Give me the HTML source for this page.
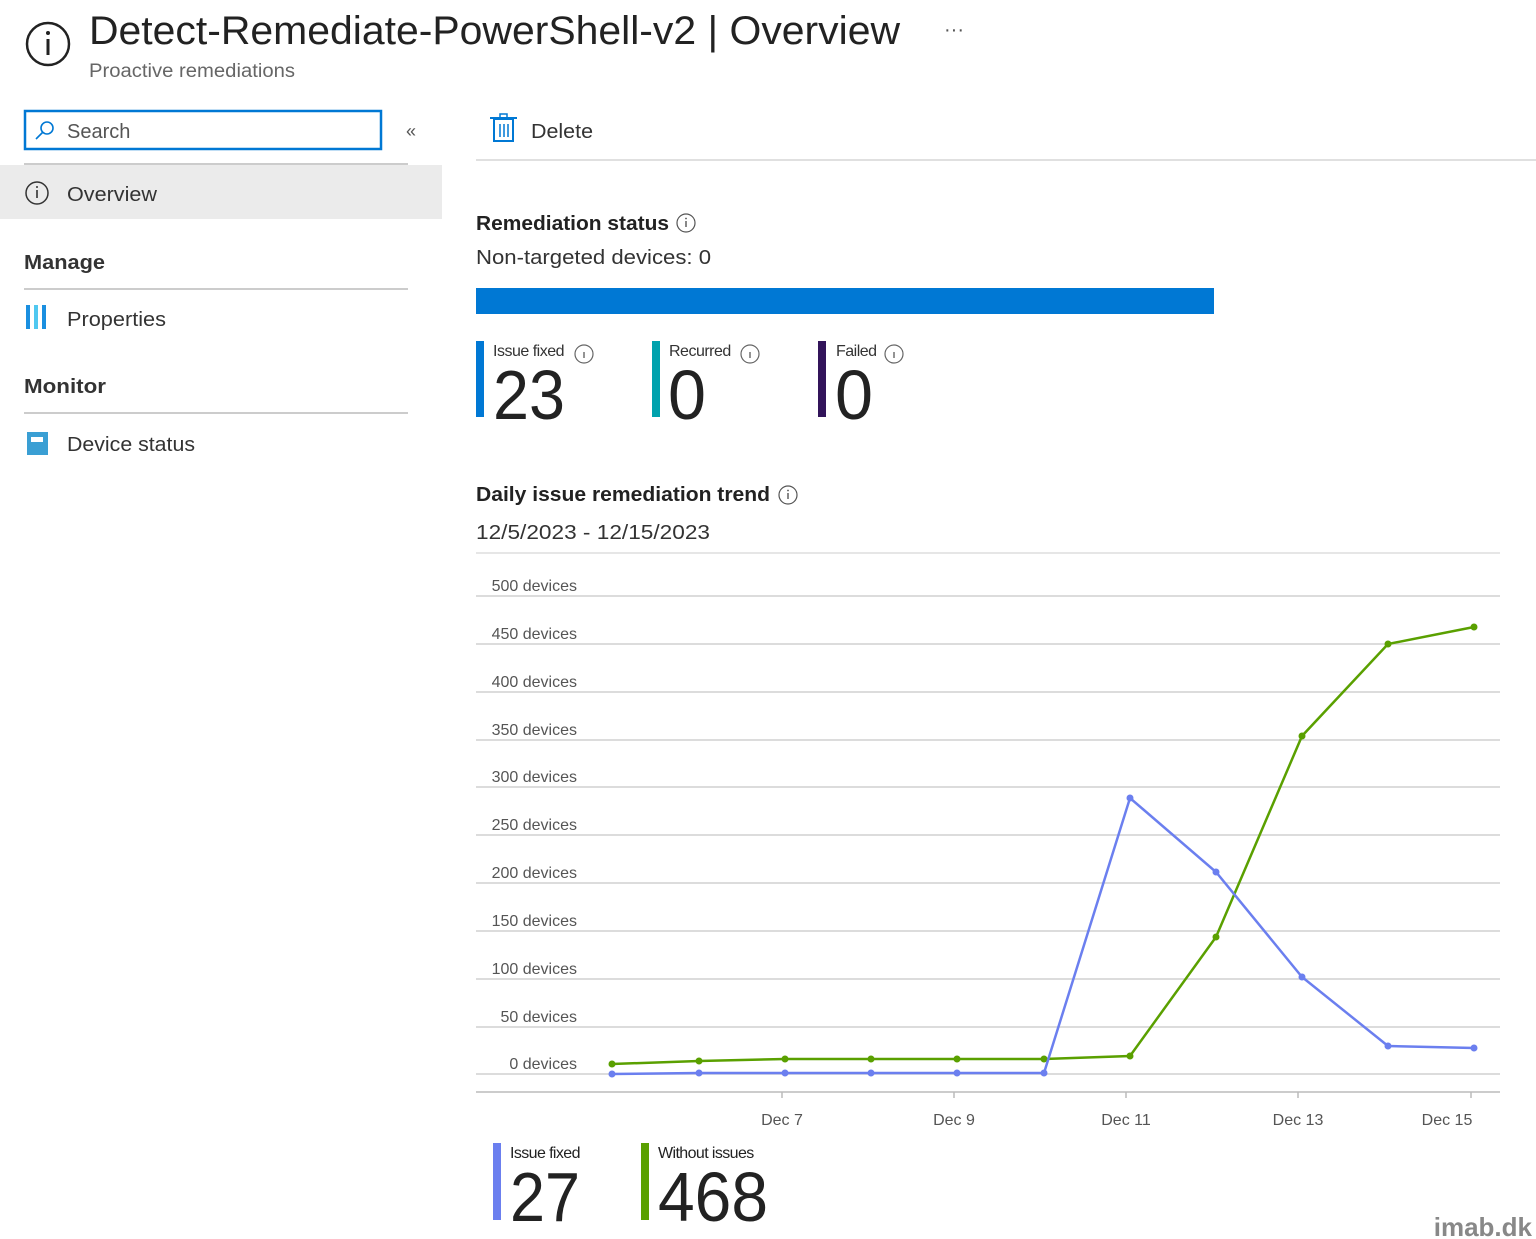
<!DOCTYPE html>
<html><head><meta charset="utf-8"><style>
html,body{margin:0;padding:0;background:#fff;}
svg{display:block;font-family:"Liberation Sans",sans-serif;}
</style></head><body>
<svg width="1536" height="1239" viewBox="0 0 1536 1239" xmlns="http://www.w3.org/2000/svg">
<circle cx="48" cy="44" r="21" fill="none" stroke="#222" stroke-width="2.5"/>
<rect x="46.5" y="39" width="3" height="16" fill="#222"/><circle cx="48" cy="33" r="2" fill="#222"/>
<text x="89" y="44" font-size="40" fill="#222" textLength="811" lengthAdjust="spacingAndGlyphs">Detect-Remediate-PowerShell-v2 | Overview</text>
<text x="944" y="36" font-size="20" fill="#555">···</text>
<text x="89" y="77" font-size="19" fill="#666" textLength="206" lengthAdjust="spacingAndGlyphs">Proactive remediations</text>
<rect x="25" y="111" width="356" height="38" fill="#fff" stroke="#0078d4" stroke-width="2.5"/>
<circle cx="47" cy="128" r="6" fill="none" stroke="#0078d4" stroke-width="1.6"/>
<line x1="43" y1="132" x2="36" y2="139" stroke="#0078d4" stroke-width="1.6"/>
<text x="67" y="138" font-size="20" fill="#555">Search</text>
<text x="406" y="137" font-size="18" fill="#555">«</text>
<line x1="24" y1="164" x2="408" y2="164" stroke="#ccc" stroke-width="2"/>
<rect x="0" y="165" width="442" height="54" fill="#ebebeb"/>
<circle cx="37" cy="193" r="11" fill="none" stroke="#333" stroke-width="1.5"/>
<rect x="36.2" y="190" width="1.6" height="8" fill="#333"/><circle cx="37" cy="187" r="1" fill="#333"/>
<text x="67" y="201" font-size="20" fill="#333" textLength="90" lengthAdjust="spacingAndGlyphs">Overview</text>
<text x="24" y="269" font-size="20" fill="#333" style="font-weight:600" textLength="81" lengthAdjust="spacingAndGlyphs">Manage</text>
<line x1="24" y1="289" x2="408" y2="289" stroke="#ccc" stroke-width="2"/>
<rect x="26" y="305" width="4" height="24" fill="#1a8fe0"/><rect x="34" y="305" width="4" height="24" fill="#50c8f0"/><rect x="42" y="305" width="4" height="24" fill="#1a8fe0"/>
<text x="67" y="326" font-size="20" fill="#333" textLength="99" lengthAdjust="spacingAndGlyphs">Properties</text>
<text x="24" y="393" font-size="20" fill="#333" style="font-weight:600" textLength="82" lengthAdjust="spacingAndGlyphs">Monitor</text>
<line x1="24" y1="413" x2="408" y2="413" stroke="#ccc" stroke-width="2"/>
<rect x="27" y="432" width="21" height="23" fill="#3a9fd4"/><rect x="31" y="437" width="12" height="5" fill="#fff"/>
<text x="67" y="451" font-size="20" fill="#333" textLength="128" lengthAdjust="spacingAndGlyphs">Device status</text>
<rect x="494" y="119" width="19" height="22" fill="none" stroke="#0078d4" stroke-width="2"/>
<line x1="490" y1="118" x2="517" y2="118" stroke="#0078d4" stroke-width="2"/>
<rect x="500" y="114" width="7" height="4" fill="none" stroke="#0078d4" stroke-width="1.5"/>
<line x1="500" y1="124" x2="500" y2="137" stroke="#0078d4" stroke-width="1.5"/><line x1="504" y1="124" x2="504" y2="137" stroke="#0078d4" stroke-width="1.5"/><line x1="508" y1="124" x2="508" y2="137" stroke="#0078d4" stroke-width="1.5"/>
<text x="531" y="138" font-size="20" fill="#333" textLength="62" lengthAdjust="spacingAndGlyphs">Delete</text>
<line x1="476" y1="160" x2="1536" y2="160" stroke="#e0e0e0" stroke-width="2"/>
<text x="476" y="230" font-size="20" fill="#222" style="font-weight:600" textLength="193" lengthAdjust="spacingAndGlyphs">Remediation status</text>
<circle cx="686" cy="223" r="9" fill="none" stroke="#555" stroke-width="1.2"/><rect x="685.3" y="221" width="1.4" height="6" fill="#555"/><circle cx="686" cy="218.5" r="0.9" fill="#555"/>
<text x="476" y="264" font-size="20" fill="#333" textLength="235" lengthAdjust="spacingAndGlyphs">Non-targeted devices: 0</text>
<rect x="476" y="288" width="738" height="26" fill="#0078d4"/>
<rect x="476" y="341" width="8" height="76" fill="#0078d4"/>
<text x="493" y="356" font-size="16" fill="#333" letter-spacing="-0.5">Issue fixed</text>
<circle cx="584" cy="354" r="9" fill="none" stroke="#666" stroke-width="1.2"/><rect x="583.3" y="352" width="1.4" height="6" fill="#666"/>
<text x="493" y="419" font-size="70" fill="#222" textLength="72" lengthAdjust="spacingAndGlyphs">23</text>
<rect x="652" y="341" width="8" height="76" fill="#00a2ad"/>
<text x="669" y="356" font-size="16" fill="#333" letter-spacing="-0.5">Recurred</text>
<circle cx="750" cy="354" r="9" fill="none" stroke="#666" stroke-width="1.2"/><rect x="749.3" y="352" width="1.4" height="6" fill="#666"/>
<text x="668" y="419" font-size="70" fill="#222" textLength="38" lengthAdjust="spacingAndGlyphs">0</text>
<rect x="818" y="341" width="8" height="76" fill="#32145a"/>
<text x="836" y="356" font-size="16" fill="#333" letter-spacing="-0.5">Failed</text>
<circle cx="894" cy="354" r="9" fill="none" stroke="#666" stroke-width="1.2"/><rect x="893.3" y="352" width="1.4" height="6" fill="#666"/>
<text x="835" y="419" font-size="70" fill="#222" textLength="38" lengthAdjust="spacingAndGlyphs">0</text>
<text x="476" y="501" font-size="20" fill="#222" style="font-weight:600" textLength="294" lengthAdjust="spacingAndGlyphs">Daily issue remediation trend</text>
<circle cx="788" cy="495" r="9" fill="none" stroke="#555" stroke-width="1.2"/><rect x="787.3" y="493" width="1.4" height="6" fill="#555"/><circle cx="788" cy="490.5" r="0.9" fill="#555"/>
<text x="476" y="539" font-size="20" fill="#333" textLength="234" lengthAdjust="spacingAndGlyphs">12/5/2023 - 12/15/2023</text>
<line x1="476" y1="553" x2="1500" y2="553" stroke="#ddd" stroke-width="1.5"/>
<g stroke="#d0d0d0" stroke-width="1.5">
<line x1="476" y1="596" x2="1500" y2="596"/><line x1="476" y1="644" x2="1500" y2="644"/><line x1="476" y1="692" x2="1500" y2="692"/><line x1="476" y1="740" x2="1500" y2="740"/><line x1="476" y1="787" x2="1500" y2="787"/><line x1="476" y1="835" x2="1500" y2="835"/><line x1="476" y1="883" x2="1500" y2="883"/><line x1="476" y1="931" x2="1500" y2="931"/><line x1="476" y1="979" x2="1500" y2="979"/><line x1="476" y1="1027" x2="1500" y2="1027"/><line x1="476" y1="1074" x2="1500" y2="1074"/>
</g>
<g font-size="16" fill="#555" text-anchor="end">
<text x="577" y="591">500 devices</text><text x="577" y="639">450 devices</text><text x="577" y="687">400 devices</text><text x="577" y="735">350 devices</text><text x="577" y="782">300 devices</text><text x="577" y="830">250 devices</text><text x="577" y="878">200 devices</text><text x="577" y="926">150 devices</text><text x="577" y="974">100 devices</text><text x="577" y="1022">50 devices</text><text x="577" y="1069">0 devices</text>
</g>
<line x1="476" y1="1092" x2="1500" y2="1092" stroke="#bbb" stroke-width="1.5"/>
<g stroke="#bbb" stroke-width="1.5"><line x1="782" y1="1092" x2="782" y2="1098"/><line x1="954" y1="1092" x2="954" y2="1098"/><line x1="1126" y1="1092" x2="1126" y2="1098"/><line x1="1298" y1="1092" x2="1298" y2="1098"/><line x1="1471" y1="1092" x2="1471" y2="1098"/></g>
<g font-size="16" fill="#555" text-anchor="middle"><text x="782" y="1125">Dec 7</text><text x="954" y="1125">Dec 9</text><text x="1126" y="1125">Dec 11</text><text x="1298" y="1125">Dec 13</text><text x="1447" y="1125">Dec 15</text></g>
<polyline fill="none" stroke="#5aa000" stroke-width="2.5" points="612,1064 699,1061 785,1059 871,1059 957,1059 1044,1059 1130,1056 1216,937 1302,736 1388,644 1474,627"/>
<g fill="#5aa000"><circle cx="612" cy="1064" r="3.5"/><circle cx="699" cy="1061" r="3.5"/><circle cx="785" cy="1059" r="3.5"/><circle cx="871" cy="1059" r="3.5"/><circle cx="957" cy="1059" r="3.5"/><circle cx="1044" cy="1059" r="3.5"/><circle cx="1130" cy="1056" r="3.5"/><circle cx="1216" cy="937" r="3.5"/><circle cx="1302" cy="736" r="3.5"/><circle cx="1388" cy="644" r="3.5"/><circle cx="1474" cy="627" r="3.5"/></g>
<polyline fill="none" stroke="#6b7fef" stroke-width="2.5" points="612,1074 699,1073 785,1073 871,1073 957,1073 1044,1073 1130,798 1216,872 1302,977 1388,1046 1474,1048"/>
<g fill="#6b7fef"><circle cx="612" cy="1074" r="3.5"/><circle cx="699" cy="1073" r="3.5"/><circle cx="785" cy="1073" r="3.5"/><circle cx="871" cy="1073" r="3.5"/><circle cx="957" cy="1073" r="3.5"/><circle cx="1044" cy="1073" r="3.5"/><circle cx="1130" cy="798" r="3.5"/><circle cx="1216" cy="872" r="3.5"/><circle cx="1302" cy="977" r="3.5"/><circle cx="1388" cy="1046" r="3.5"/><circle cx="1474" cy="1048" r="3.5"/></g>
<rect x="493" y="1143" width="8" height="77" fill="#6b7fef"/>
<text x="510" y="1158" font-size="16" fill="#222" letter-spacing="-0.6">Issue fixed</text>
<text x="510" y="1221" font-size="70" fill="#222" textLength="70" lengthAdjust="spacingAndGlyphs">27</text>
<rect x="641" y="1143" width="8" height="77" fill="#5aa000"/>
<text x="658" y="1158" font-size="16" fill="#222" letter-spacing="-0.6">Without issues</text>
<text x="658" y="1221" font-size="70" fill="#222" textLength="110" lengthAdjust="spacingAndGlyphs">468</text>
<text x="1532" y="1236" font-size="26" fill="#888" text-anchor="end" style="font-weight:bold">imab.dk</text>
</svg>
</body></html>
